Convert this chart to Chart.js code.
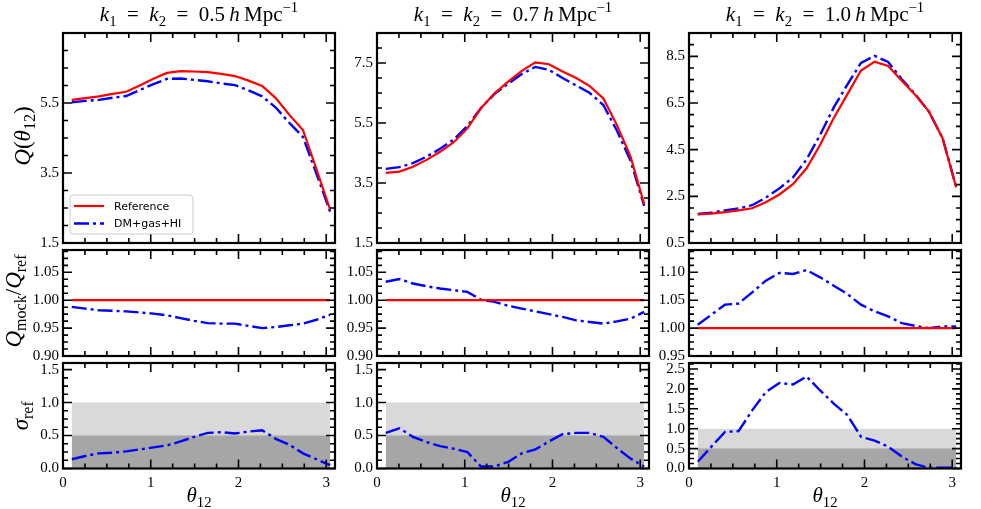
<!DOCTYPE html>
<html>
<head>
<meta charset="utf-8">
<script src="https://cdn.jsdelivr.net/npm/chart.js@4.4.1/dist/chart.umd.min.js"></script>
<style>
  body { margin: 0; background: #fff; }
  #wrap { position: relative; width: 981px; height: 509px; }
  #wrap canvas { position: absolute; left: 0; top: 0; }
</style>
</head>
<body>
<div id="wrap"></div>
<script>
// bin centres in theta_12
const theta = [0.10, 0.255, 0.41, 0.565, 0.72, 0.875, 1.03, 1.185, 1.34, 1.495, 1.65, 1.805, 1.96, 2.115, 2.27, 2.425, 2.58, 2.735, 2.89, 3.045];
const kValues = ['0.5', '0.7', '1.0'];
const seriesNames = ['Reference', 'DM+gas+HI'];

// k = 0.5
const qRef05 = [5.59, 5.64, 5.69, 5.76, 5.82, 6.00, 6.19, 6.36, 6.41, 6.40, 6.38, 6.33, 6.27, 6.14, 5.99, 5.64, 5.16, 4.73, 3.60, 2.45];
const qMock05 = [5.52, 5.56, 5.59, 5.65, 5.70, 5.87, 6.04, 6.19, 6.20, 6.16, 6.12, 6.06, 6.01, 5.86, 5.69, 5.37, 4.93, 4.53, 3.47, 2.39];
const ratio05 = [0.988, 0.985, 0.982, 0.981, 0.980, 0.978, 0.976, 0.973, 0.968, 0.963, 0.959, 0.958, 0.958, 0.954, 0.950, 0.952, 0.955, 0.958, 0.965, 0.974];
const sigma05 = [0.14, 0.19, 0.23, 0.24, 0.26, 0.29, 0.32, 0.35, 0.41, 0.48, 0.54, 0.55, 0.53, 0.56, 0.58, 0.45, 0.36, 0.23, 0.14, 0.05];

// k = 0.7
const qRef07 = [3.84, 3.88, 4.04, 4.27, 4.54, 4.86, 5.32, 5.99, 6.49, 6.88, 7.24, 7.52, 7.46, 7.22, 7.00, 6.73, 6.32, 5.43, 4.38, 2.80];
const qMock07 = [3.97, 4.03, 4.16, 4.38, 4.64, 4.95, 5.40, 6.00, 6.47, 6.81, 7.13, 7.37, 7.27, 7.00, 6.75, 6.50, 6.10, 5.24, 4.24, 2.74];
const ratio07 = [1.033, 1.038, 1.030, 1.025, 1.021, 1.018, 1.015, 1.001, 0.997, 0.990, 0.985, 0.980, 0.975, 0.970, 0.964, 0.961, 0.958, 0.962, 0.967, 0.979];
const sigma07 = [0.54, 0.61, 0.48, 0.40, 0.34, 0.30, 0.25, 0.03, 0.03, 0.10, 0.23, 0.29, 0.41, 0.52, 0.54, 0.54, 0.48, 0.31, 0.15, 0.03];

// k = 1.0
const qRef10 = [1.73, 1.76, 1.82, 1.90, 1.99, 2.25, 2.58, 3.02, 3.70, 4.71, 5.86, 6.87, 7.89, 8.27, 8.09, 7.45, 6.84, 6.13, 4.99, 2.89];
const qMock10 = [1.74, 1.80, 1.90, 1.98, 2.12, 2.44, 2.84, 3.31, 4.08, 5.14, 6.31, 7.29, 8.22, 8.52, 8.26, 7.52, 6.87, 6.13, 5.00, 2.90];
const ratio10 = [1.006, 1.024, 1.042, 1.044, 1.064, 1.085, 1.099, 1.097, 1.104, 1.091, 1.076, 1.061, 1.042, 1.030, 1.021, 1.009, 1.004, 1.000, 1.003, 1.003];
const sigma10 = [0.17, 0.55, 0.92, 0.94, 1.46, 1.92, 2.15, 2.11, 2.31, 1.96, 1.63, 1.34, 0.80, 0.70, 0.55, 0.30, 0.11, 0.02, 0.02, 0.02];

const refRatio = [1, 1, 1, 1, 1, 1, 1, 1, 1, 1, 1, 1, 1, 1, 1, 1, 1, 1, 1, 1];
const sigmaBands = [1.0, 0.5];

// tick labels
const xTicks = [0, 1, 2, 3];
const qTicks05 = [1.5, 3.5, 5.5];
const qTicks07 = [1.5, 3.5, 5.5, 7.5];
const qTicks10 = [0.5, 2.5, 4.5, 6.5, 8.5];
const rTicks = [0.90, 0.95, 1.00, 1.05];
const rTicks10 = [0.95, 1.00, 1.05, 1.10];
const sTicks = [0.0, 0.5, 1.0, 1.5];
const sTicks10 = [0.0, 0.5, 1.0, 1.5, 2.0, 2.5];

const RED = '#ff0000', BLUE = '#0000ff';
const DASHDOT = [15, 4, 3, 4];
const SERIF = '"Liberation Serif", "DejaVu Serif", serif';
const Y_AXIS_W = 45, X_AXIS_H = 40;

const cols = [[63, 335], [377, 649], [689, 961]];
const rows = [[33, 243], [250, 356], [363, 468.5]];

const columns = [
  { k: kValues[0], q: [qRef05, qMock05], ratio: ratio05, sigma: sigma05,
    qLim: [1.5, 7.5, 2], qTicks: qTicks05, rLim: [0.90, 1.09, 0.05], rTicks: rTicks, sLim: [0, 1.6, 0.5], sTicks: sTicks, legend: true },
  { k: kValues[1], q: [qRef07, qMock07], ratio: ratio07, sigma: sigma07,
    qLim: [1.5, 8.5, 2], qTicks: qTicks07, rLim: [0.90, 1.09, 0.05], rTicks: rTicks, sLim: [0, 1.6, 0.5], sTicks: sTicks },
  { k: kValues[2], q: [qRef10, qMock10], ratio: ratio10, sigma: sigma10,
    qLim: [0.5, 9.5, 2], qTicks: qTicks10, rLim: [0.95, 1.14, 0.05], rTicks: rTicks10, sLim: [0, 2.65, 0.5], sTicks: sTicks10 }
];

function pts(ys) {
  return theta.map((x, i) => ({ x: x, y: ys[i] }));
}

// draw a short run of text with italics / sub / superscripts
function drawMath(ctx, segs, x, y, size, rotate) {
  const fontFor = s => (s.i ? 'italic ' : '') + ((s.sub || s.sup) ? size * 0.7 : size) + 'px ' + SERIF;
  let w = 0;
  segs.forEach(s => { ctx.font = fontFor(s); s.w = ctx.measureText(s.t).width; w += s.w; });
  ctx.save();
  ctx.translate(x, y);
  if (rotate) ctx.rotate(-Math.PI / 2);
  ctx.fillStyle = '#000';
  ctx.textAlign = 'left';
  ctx.textBaseline = 'alphabetic';
  let cx = -w / 2;
  segs.forEach(s => {
    ctx.font = fontFor(s);
    const dy = s.sub ? size * 0.22 : (s.sup ? -size * 0.42 : 0);
    ctx.fillText(s.t, cx, dy);
    cx += s.w;
  });
  ctx.restore();
}

function tickRun(min, max, step, cb) {
  for (let i = 0; min + i * step <= max + 1e-9; i++) {
    cb(min + i * step, i % 4 === 0);
  }
}

const framePlugin = {
  id: 'frame',
  afterDatasetsDraw(chart, args, o) {
    const ctx = chart.ctx, a = chart.chartArea;
    const xs = chart.scales.x, ys = chart.scales.y;
    ctx.save();
    ctx.strokeStyle = '#000';
    ctx.lineWidth = 1.6;
    ctx.beginPath();
    tickRun(0, xs.max, 0.25, (v, major) => {
      const p = xs.getPixelForValue(v), len = major ? 9 : 5;
      ctx.moveTo(p, a.bottom); ctx.lineTo(p, a.bottom - len);
      ctx.moveTo(p, a.top); ctx.lineTo(p, a.top + len);
    });
    tickRun(ys.min, ys.max, o.yMajor / 4, (v, major) => {
      const p = ys.getPixelForValue(v), len = major ? 9 : 5;
      ctx.moveTo(a.left, p); ctx.lineTo(a.left + len, p);
      ctx.moveTo(a.right, p); ctx.lineTo(a.right - len, p);
    });
    ctx.stroke();
    ctx.lineWidth = 2.2;
    ctx.strokeRect(a.left, a.top, a.right - a.left, a.bottom - a.top);

    const cx = (a.left + a.right) / 2, cy = (a.top + a.bottom) / 2;
    if (o.title) {
      drawMath(ctx, [
        { t: 'k', i: 1 }, { t: '1', sub: 1 }, { t: '\u2002=\u2002' },
        { t: 'k', i: 1 }, { t: '2', sub: 1 }, { t: '\u2002=\u2002' + o.title + '\u2009' },
        { t: 'h', i: 1 }, { t: '\u2009Mpc' }, { t: '\u22121', sup: 1 }
      ], cx, 21, 21, false);
    }
    if (o.yTitle === 'Q') {
      drawMath(ctx, [{ t: 'Q', i: 1 }, { t: '(' }, { t: '\u03b8', i: 1 }, { t: '12', sub: 1 }, { t: ')' }], 30, cy - 2, 23, true);
    } else if (o.yTitle === 'ratio') {
      drawMath(ctx, [{ t: 'Q', i: 1 }, { t: 'mock', sub: 1 }, { t: '/' }, { t: 'Q', i: 1 }, { t: 'ref', sub: 1 }], 21, cy - 2, 23, true);
    } else if (o.yTitle === 'sigma') {
      drawMath(ctx, [{ t: '\u03c3', i: 1 }, { t: 'ref', sub: 1 }], 28, cy, 23, true);
    }
    if (o.xTitle) {
      drawMath(ctx, [{ t: '\u03b8', i: 1 }, { t: '12', sub: 1 }], cx, 502, 21, false);
    }
    if (o.legend) {
      const items = chart.data.datasets.filter(d => d.label);
      const bx = a.left + 7, bw = 123, bh = 39, by = a.bottom - 9 - bh;
      ctx.fillStyle = 'rgba(255,255,255,0.85)';
      ctx.strokeStyle = '#cccccc';
      ctx.lineWidth = 1;
      ctx.beginPath();
      ctx.roundRect(bx, by, bw, bh, 3);
      ctx.fill();
      ctx.stroke();
      ctx.font = '11px "DejaVu Sans", sans-serif';
      ctx.textBaseline = 'middle';
      ctx.textAlign = 'left';
      items.forEach((d, i) => {
        const ly = by + 11 + i * 17.5;
        ctx.strokeStyle = d.borderColor;
        ctx.lineWidth = d.borderWidth;
        ctx.setLineDash(d.borderDash || []);
        ctx.beginPath();
        ctx.moveTo(bx + 4, ly); ctx.lineTo(bx + 34, ly);
        ctx.stroke();
        ctx.setLineDash([]);
        ctx.fillStyle = '#000';
        ctx.fillText(d.label, bx + 44, ly + 1);
      });
    }
    ctx.restore();
  }
};

function lineSet(label, ys, color, dash, width) {
  return {
    label: label, data: pts(ys), borderColor: color, borderWidth: width,
    borderDash: dash, pointRadius: 0, tension: 0, fill: false, order: 0
  };
}

function bandSet(level, color, order) {
  return {
    data: [{ x: theta[0], y: level }, { x: theta[theta.length - 1], y: level }],
    borderWidth: 0, borderColor: 'rgba(0,0,0,0)', backgroundColor: color,
    pointRadius: 0, fill: 'origin', order: order
  };
}

function makePanel(col, row, datasets, lim, ticks, dec, extra) {
  const canvas = document.createElement('canvas');
  canvas.width = 981; canvas.height = 509;
  document.getElementById('wrap').appendChild(canvas);
  const [x0, x1] = cols[col], [y0, y1] = rows[row];
  const bottomRow = row === 2;
  const xh = bottomRow ? X_AXIS_H : 0;
  new Chart(canvas.getContext('2d'), {
    type: 'line',
    data: { datasets: datasets },
    options: {
      responsive: false,
      animation: false,
      layout: { padding: { left: x0 - Y_AXIS_W, right: 981 - x1, top: y0, bottom: 509 - y1 - xh } },
      plugins: {
        legend: { display: false },
        tooltip: { enabled: false },
        frame: Object.assign({ yMajor: lim[2] }, extra)
      },
      scales: {
        x: {
          type: 'linear', min: 0, max: 3.1,
          grid: { display: false, drawTicks: false }, border: { display: false },
          afterFit: s => { s.height = xh; },
          afterBuildTicks: s => { s.ticks = xTicks.map(v => ({ value: v })); },
          ticks: {
            display: bottomRow, padding: 6, autoSkip: false, maxRotation: 0,
            color: '#000', font: { family: SERIF, size: 15 },
            callback: v => String(v)
          }
        },
        y: {
          type: 'linear', min: lim[0], max: lim[1],
          grid: { display: false, drawTicks: false }, border: { display: false },
          afterFit: s => { s.width = Y_AXIS_W; },
          afterBuildTicks: s => { s.ticks = ticks.map(v => ({ value: v })); },
          ticks: {
            padding: 4, autoSkip: false, color: '#000', font: { family: SERIF, size: 15 },
            callback: v => v.toFixed(dec)
          }
        }
      }
    },
    plugins: [framePlugin]
  });
}

columns.forEach((c, i) => {
  // top row: Q(theta)
  makePanel(i, 0, [
    lineSet(seriesNames[0], c.q[0], RED, [], 2.2),
    lineSet(seriesNames[1], c.q[1], BLUE, DASHDOT, 2.4)
  ], c.qLim, c.qTicks, 1, { title: c.k, yTitle: i === 0 ? 'Q' : null, legend: !!c.legend });

  // middle row: ratio
  makePanel(i, 1, [
    lineSet(null, refRatio, RED, [], 2.2),
    lineSet(null, c.ratio, BLUE, DASHDOT, 2.4)
  ], c.rLim, c.rTicks, 2, { yTitle: i === 0 ? 'ratio' : null });

  // bottom row: sigma with shaded bands
  makePanel(i, 2, [
    lineSet(null, c.sigma, BLUE, DASHDOT, 2.4),
    bandSet(sigmaBands[1], '#a6a6a6', 1),
    bandSet(sigmaBands[0], '#d9d9d9', 2)
  ], c.sLim, c.sTicks, 1, { yTitle: i === 0 ? 'sigma' : null, xTitle: true });
});
</script>
</body>
</html>
